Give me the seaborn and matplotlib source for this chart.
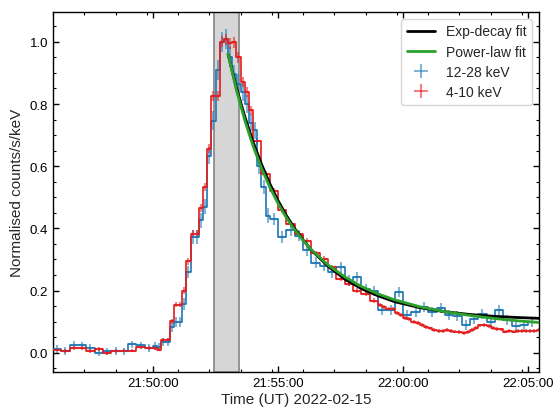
import numpy as np
import pandas as pd
import matplotlib
matplotlib.use("Agg")
import matplotlib.pyplot as plt
from matplotlib.ticker import FixedLocator, MultipleLocator, FuncFormatter
from matplotlib.lines import Line2D
import seaborn as sns

# ---------------- data ----------------
START = "21:46:00"          # zero of the time axis (UT)
DATE_LABEL = "2022-02-15"
X_END = 1166                # right x limit, seconds after START

# bin layout: (segment start s, segment end s, bin width s)
blue_segments = [(0, 240, 20), (240, 520, 10), (520, 1160, 20)]
red_segments = [(0, 240, 20), (240, 480, 10), (480, 780, 20), (780, 1170, 10)]

blue_values = [
    0.012, 0.005, 0.026, 0.024, 0.015, 0.000, 0.004, 0.005, 0.004, 0.027, 0.024, 0.015,
    0.022, 0.020, 0.035, 0.035, 0.083, 0.099, 0.099, 0.157, 0.259, 0.372, 0.372, 0.426,
    0.469, 0.634, 0.747, 0.908, 0.999, 1.010, 0.950, 0.897, 0.865, 0.840, 0.800, 0.740,
    0.715, 0.600, 0.533, 0.441,
    0.430, 0.372, 0.395, 0.377, 0.329, 0.290, 0.280, 0.259, 0.275, 0.232, 0.245, 0.206,
    0.200, 0.136, 0.136, 0.195, 0.122, 0.132, 0.147, 0.132, 0.143, 0.122, 0.117, 0.090,
    0.110, 0.126, 0.099, 0.136, 0.106, 0.085, 0.090, 0.099,
]
blue_errors = [
    0.012, 0.012, 0.012, 0.012, 0.012, 0.012, 0.012, 0.012, 0.012, 0.012, 0.012, 0.012,
    0.012, 0.012, 0.014, 0.014, 0.016, 0.016, 0.016, 0.018, 0.020, 0.022, 0.022, 0.024,
    0.024, 0.028, 0.030, 0.032, 0.032, 0.032, 0.032, 0.030, 0.030, 0.030, 0.028, 0.028,
    0.028, 0.026, 0.024, 0.024,
    0.018, 0.018, 0.018, 0.018, 0.018, 0.018, 0.018, 0.018, 0.018, 0.018, 0.016, 0.016,
    0.016, 0.016, 0.016, 0.016, 0.016, 0.016, 0.016, 0.016, 0.016, 0.016, 0.016, 0.016,
    0.016, 0.016, 0.016, 0.016, 0.016, 0.016, 0.016, 0.016,
]
red_values = [
    0.010, 0.005, 0.016, 0.016, 0.005, 0.013, -0.001, 0.005, 0.007, 0.007, 0.018, 0.015,
    0.015, 0.010, 0.040, 0.040, 0.101, 0.155, 0.155, 0.200, 0.294, 0.383, 0.383, 0.465,
    0.533, 0.656, 0.827, 0.827, 1.000, 1.008, 0.995, 0.999, 0.950, 0.870, 0.840, 0.780,
    0.680, 0.575, 0.520, 0.460, 0.414, 0.383, 0.361, 0.320, 0.302, 0.275, 0.238, 0.222,
    0.200, 0.190, 0.168,
    0.154, 0.147, 0.140, 0.140, 0.128, 0.122, 0.112, 0.108, 0.099, 0.095, 0.090, 0.082,
    0.078, 0.074, 0.071, 0.071, 0.074, 0.070, 0.068, 0.066, 0.064, 0.066, 0.072, 0.080,
    0.088, 0.090, 0.086, 0.080, 0.077, 0.075, 0.068, 0.070, 0.068, 0.069, 0.070, 0.071,
    0.070, 0.070, 0.072,
]
red_errors = [
    0.006, 0.006, 0.006, 0.006, 0.006, 0.006, 0.006, 0.006, 0.006, 0.006, 0.006, 0.006,
    0.006, 0.006, 0.007, 0.007, 0.008, 0.009, 0.009, 0.010, 0.011, 0.012, 0.012, 0.013,
    0.013, 0.014, 0.016, 0.016, 0.018, 0.018, 0.018, 0.018, 0.017, 0.016, 0.016, 0.015,
    0.011, 0.010, 0.010, 0.009, 0.009, 0.009, 0.008, 0.008, 0.008, 0.008, 0.007, 0.007,
    0.007, 0.007, 0.007,
    0.006, 0.006, 0.006, 0.006, 0.006, 0.006, 0.006, 0.006, 0.006, 0.006, 0.006, 0.006,
    0.006, 0.006, 0.006, 0.006, 0.006, 0.006, 0.006, 0.006, 0.006, 0.006, 0.006, 0.006,
    0.006, 0.006, 0.006, 0.006, 0.006, 0.006, 0.006, 0.006, 0.006, 0.006, 0.006, 0.006,
    0.006, 0.006, 0.006,
]

# fitted decay curves, sampled (seconds after the fit start)
FIT_START = 420
fit_t = [0, 20, 40, 60, 80, 100, 120, 140, 160, 180, 200, 240, 280, 320, 360, 400,
         460, 520, 580, 640, 700, 760]
exp_fit = [0.960, 0.853, 0.760, 0.678, 0.607, 0.544, 0.489, 0.441, 0.399, 0.363, 0.330,
           0.278, 0.237, 0.206, 0.183, 0.164, 0.145, 0.132, 0.123, 0.117, 0.113, 0.110]
pow_fit = [0.960, 0.845, 0.748, 0.665, 0.594, 0.533, 0.480, 0.434, 0.395, 0.361, 0.331,
           0.282, 0.244, 0.213, 0.189, 0.170, 0.148, 0.132, 0.120, 0.110, 0.102, 0.096]

SHADE = (387, 447)   # seconds after START
xtick_labels = ["21:50:00", "21:55:00", "22:00:00", "22:05:00"]
yticks = [0.0, 0.2, 0.4, 0.6, 0.8, 1.0]
YLIM = (-0.062, 1.096)

series_names = ["12-28 keV", "4-10 keV"]
COL_BLUE = "#1f77b4"
COL_RED = "#e41a1c"
COL_GREEN = "#2ca02c"


def clock_to_s(s):
    h, m, sec = (int(v) for v in s.split(":"))
    return h * 3600 + m * 60 + sec


T0 = clock_to_s(START)


def s_to_clock(x, pos=None):
    tot = int(round(T0 + x))
    return f"{tot // 3600:02d}:{(tot % 3600) // 60:02d}:{tot % 60:02d}"


def bin_edges(segments):
    edges = []
    for s, e, w in segments:
        edges.extend(range(s, e, w))
    edges.append(segments[-1][1])
    return np.array(edges, dtype=float)


# ---------------- figure ----------------
sns.set_theme(style="ticks")
plt.rcParams["font.family"] = ["Liberation Sans", "DejaVu Sans"]
plt.rcParams["axes.linewidth"] = 1.0

fig = plt.figure(figsize=(5.53, 4.10), dpi=100)
ax = fig.add_axes([0.0958, 0.0902, 0.879, 0.8781])

ax.axvspan(SHADE[0], SHADE[1], facecolor="#d6d6d6", edgecolor="#8c8c8c",
           linewidth=1.3, zorder=0)

handles = {}
for name, segs, vals, errs, col in [
    (series_names[0], blue_segments, blue_values, blue_errors, COL_BLUE),
    (series_names[1], red_segments, red_values, red_errors, COL_RED),
]:
    edges = bin_edges(segs)
    vals = np.array(vals)
    centers = 0.5 * (edges[:-1] + edges[1:])
    half = 0.5 * np.diff(edges)
    step_df = pd.DataFrame({"t": edges, "v": np.append(vals, vals[-1])})
    sns.lineplot(data=step_df, x="t", y="v", ax=ax, color=col, linewidth=1.2,
                 drawstyle="steps-post", estimator=None, errorbar=None, sort=False,
                 zorder=3)
    eb = ax.errorbar(centers, vals, xerr=half, yerr=np.array(errs), fmt="none",
                     ecolor=col, elinewidth=1.5, alpha=0.55, zorder=2)
    handles[name] = eb

fit_df = pd.DataFrame({
    "t": np.array(fit_t, dtype=float) + FIT_START,
    "exp": exp_fit,
    "pow": pow_fit,
})
sns.lineplot(data=fit_df, x="t", y="exp", ax=ax, color="black", linewidth=2.0,
             estimator=None, errorbar=None, zorder=4)
sns.lineplot(data=fit_df, x="t", y="pow", ax=ax, color=COL_GREEN, linewidth=2.0,
             estimator=None, errorbar=None, zorder=5)

ax.set_xlim(0, X_END)
ax.set_ylim(*YLIM)
ax.xaxis.set_major_locator(FixedLocator([clock_to_s(s) - T0 for s in xtick_labels]))
ax.xaxis.set_major_formatter(FuncFormatter(s_to_clock))
ax.xaxis.set_minor_locator(MultipleLocator(75))
ax.yaxis.set_major_locator(FixedLocator(yticks))
ax.yaxis.set_major_formatter(FuncFormatter(lambda v, p: f"{v:.1f}"))
ax.yaxis.set_minor_locator(MultipleLocator(0.05))

ax.tick_params(which="both", direction="in", top=True, right=True, colors="black",
               labelsize=9.5)
ax.tick_params(which="major", length=4.5, width=1.0)
ax.tick_params(which="minor", length=2.5, width=0.8)
for sp in ax.spines.values():
    sp.set_color("black")

ax.set_xlabel(f"Time (UT) {DATE_LABEL}", fontsize=11, labelpad=2)
ax.set_ylabel("Normalised counts/s/keV", fontsize=11, labelpad=4)

leg_handles = [
    Line2D([], [], color="black", linewidth=2.0),
    Line2D([], [], color=COL_GREEN, linewidth=2.0),
    handles[series_names[0]],
    handles[series_names[1]],
]
leg_labels = ["Exp-decay fit", "Power-law fit", series_names[0], series_names[1]]
ax.legend(leg_handles, leg_labels, loc="upper right", fontsize=10, frameon=True,
          fancybox=True, framealpha=0.8, edgecolor="#cccccc",
          borderaxespad=0.5, labelspacing=0.45)

fig.savefig("out.png", dpi=100)
